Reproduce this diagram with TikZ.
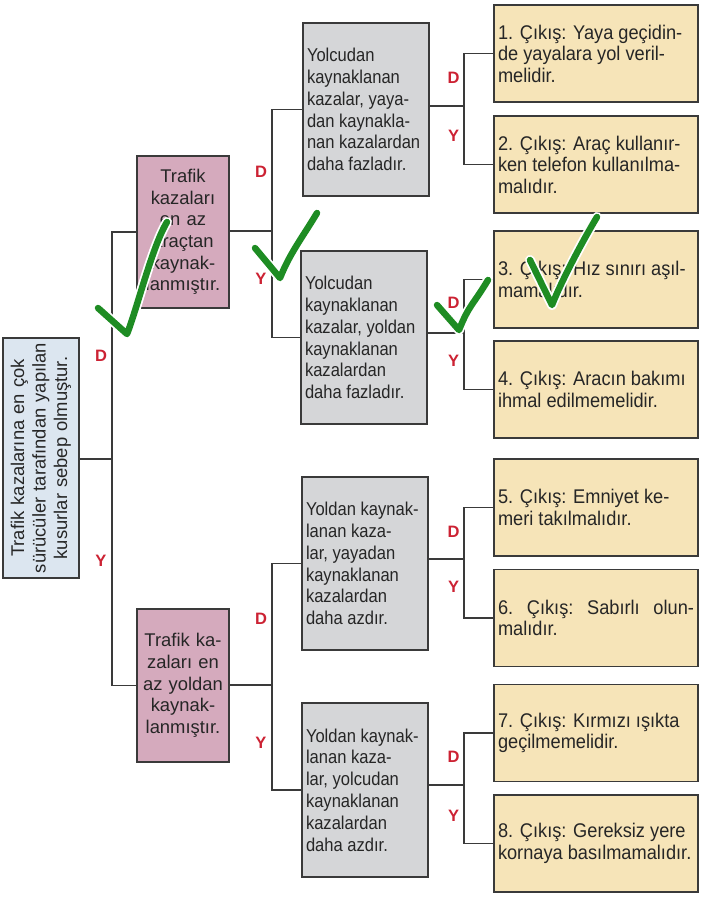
\documentclass[tikz,border=0pt]{standalone}
\usepackage{fontspec}
\setmainfont{Liberation Sans}
\newfontfamily\ylwfont{Liberation Sans}[FakeStretch=0.92]
\newfontfamily\gryfont{Liberation Sans}[FakeStretch=0.89]
\definecolor{rootfill}{HTML}{DCE6F0}
\definecolor{pinkfill}{HTML}{D5AABD}
\definecolor{greyfill}{HTML}{D5D6D8}
\definecolor{yelfill}{HTML}{F6E4B8}
\definecolor{labred}{HTML}{CC2233}
\definecolor{chkgreen}{HTML}{1E8C23}
\definecolor{edgecol}{HTML}{3A3A3A}
\begin{document}
\begin{tikzpicture}[x=1pt,y=-1pt,
  box/.style={draw=edgecol, line width=1.8pt, inner sep=0pt, text=black!85},
  rootbox/.style={box, fill=rootfill, rotate=90, minimum width=240, minimum height=76,
     text width=234, align=center, font=\fontsize{18.4}{21.5}\selectfont},
  pinkbox/.style={box, fill=pinkfill, minimum width=92, text width=88, align=center,
     font=\fontsize{18.4}{21.7}\selectfont},
  greybox/.style={box, fill=greyfill, minimum width=126, text width=118, align=flush left,
     font=\gryfont\fontsize{18.6}{21.8}\selectfont},
  yelbox/.style={box, fill=yelfill, minimum width=204, minimum height=97, text width=196,
     align=flush left, font=\ylwfont\fontsize{19.8}{21.5}\selectfont},
  conn/.style={draw=edgecol, line width=1.5pt},
  lab/.style={text=labred, font=\fontsize{16.5}{18}\selectfont\bfseries, inner sep=0pt},
  halo/.style={white, line width=10pt, line cap=round, line join=round},
  tick/.style={chkgreen, line width=6.5pt, line cap=round, line join=round}
]
\useasboundingbox (0,0) rectangle (707,906);

% nodes
\node[rootbox] (root) at (41,458) {Trafik kazalarına en çok\\sürücüler tarafından yapılan\\kusurlar sebep olmuştur.};

\node[pinkbox, minimum height=152] (p1) at (183,232) {Trafik\\kazaları\\en az\\araçtan\\kaynak-\\lanmıştır.};
\node[pinkbox, minimum height=153] (p2) at (183,685.5) {Trafik ka-\\zaları en\\az yoldan\\kaynak-\\lanmıştır.};

\node[greybox, minimum height=173] (g1) at (366,109.5) {Yolcudan\\kaynaklanan\\kazalar, yaya-\\dan kaynakla-\\nan kazalardan\\daha fazladır.};
\node[greybox, minimum height=173] (g2) at (364,337.5) {Yolcudan\\kaynaklanan\\kazalar, yoldan\\kaynaklanan\\kazalardan\\daha fazladır.};
\node[greybox, minimum height=173] (g3) at (365,563.5) {Yoldan kaynak-\\lanan kaza-\\lar, yayadan\\kaynaklanan\\kazalardan\\daha azdır.};
\node[greybox, minimum height=174] (g4) at (365,790) {Yoldan kaynak-\\lanan kaza-\\lar, yolcudan\\kaynaklanan\\kazalardan\\daha azdır.};

\node[yelbox] (y1) at (596,53.5) {1. Çıkış: Yaya geçidin-\\de yayalara yol veril-\\melidir.};
\node[yelbox] (y2) at (596,164.5) {2. Çıkış: Araç kullanır-\\ken telefon kullanılma-\\malıdır.};
\node[yelbox] (y3) at (596,279.5) {3. Çıkış: Hız sınırı aşıl-\\mamalıdır.};
\node[yelbox] (y4) at (596,389.5) {4. Çıkış: Aracın bakımı\\ihmal edilmemelidir.};
\node[yelbox] (y5) at (596,507.5) {5. Çıkış: Emniyet ke-\\meri takılmalıdır.};
\node[yelbox] (y6) at (596,618) {6.\hfill Çıkış:\hfill Sabırlı\hfill olun-\\malıdır.};
\node[yelbox] (y7) at (596,733) {7. Çıkış: Kırmızı ışıkta\\geçilmemelidir.};
\node[yelbox] (y8) at (596,843.5) {8. Çıkış: Gereksiz yere\\kornaya basılmamalıdır.};

% junctions
\coordinate (j0) at (112,459);
\coordinate (j1) at (272,231);
\coordinate (j2) at (272,685);
\coordinate (j11) at (464,106);
\coordinate (j12) at (464,333);
\coordinate (j21) at (464,559);
\coordinate (j22) at (464,785);

% connectors
\draw[conn] (root.south |- j0) -- (j0);
\draw[conn] (p1.west) -| (j0) |- (p2.west);
\draw[conn] (p1.east |- j1) -- (j1);
\draw[conn] (g1.west) -| (j1) |- (g2.west);
\draw[conn] (p2.east |- j2) -- (j2);
\draw[conn] (g3.west) -| (j2) |- (g4.west);
\draw[conn] (g1.east |- j11) -- (j11);
\draw[conn] (y1.west) -| (j11) |- (y2.west);
\draw[conn] (g2.east |- j12) -- (j12);
\draw[conn] (y3.west) -| (j12) |- (y4.west);
\draw[conn] (g3.east |- j21) -- (j21);
\draw[conn] (y5.west) -| (j21) |- (y6.west);
\draw[conn] (g4.east |- j22) -- (j22);
\draw[conn] (y7.west) -| (j22) |- (y8.west);

% labels
\node[lab] (d0) at (101,356) {D};
\node[lab] (n0) at (101,561) {Y};
\node[lab] (d1) at (261,172) {D};
\node[lab] (n1) at (261,279) {Y};
\node[lab] (d2) at (261,619) {D};
\node[lab] (n2) at (261,743) {Y};
\node[lab] (d11) at (453.5,78) {D};
\node[lab] (n11) at (453.5,136) {Y};
\node[lab] (d12) at (453.5,303) {D};
\node[lab] (n12) at (453.5,361) {Y};
\node[lab] (d21) at (453.5,532) {D};
\node[lab] (n21) at (453.5,587) {Y};
\node[lab] (d22) at (453.5,757) {D};
\node[lab] (n22) at (453.5,816) {Y};

% check marks
\foreach \a/\b/\c/\d/\e/\f in {98/308/127/334/167/222, 255/248/280/278/317/213, 437/305/459/330/488/280, 530/260/552/305/597/217}{
  \draw[halo] (\a,\b) -- (\c,\d) .. controls (\c+10,\d-25) and (\e-15,\f+25) .. (\e,\f);
  \draw[tick] (\a,\b) -- (\c,\d) .. controls (\c+10,\d-25) and (\e-15,\f+25) .. (\e,\f);
}
\end{tikzpicture}
\end{document}
